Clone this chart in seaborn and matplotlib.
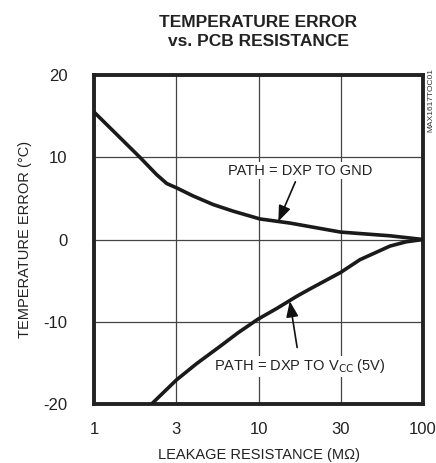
import numpy as np
import pandas as pd
import matplotlib
matplotlib.use("Agg")
import matplotlib.pyplot as plt
import seaborn as sns

# values (x on a 1..100 log axis, 3 and 30 sit at half decades)
gnd_r = [1.0, 1.9, 2.4, 2.77, 3.16, 4.0, 5.3, 7.0, 10.2, 15.5, 31.6, 63.0, 100.0]
gnd_err = [15.5, 10.0, 7.9, 6.8, 6.3, 5.3, 4.25, 3.45, 2.5, 2.0, 0.9, 0.45, 0.0]
vcc_r = [2.24, 3.16, 4.2, 5.83, 7.5, 9.9, 13.0, 17.1, 20.6, 31.6, 41.4, 63.0, 79.0, 100.0]
vcc_err = [-20.0, -17.1, -15.1, -13.0, -11.35, -9.7, -8.35, -6.9, -6.0, -4.0, -2.45, -0.8, -0.28, 0.0]

x_ticks = [1, 10 ** 0.5, 10, 10 ** 1.5, 100]
x_labels = ["1", "3", "10", "30", "100"]
y_ticks = [-20, -10, 0, 10, 20]

df = pd.concat([
    pd.DataFrame({"r": gnd_r, "err": gnd_err, "path": "gnd"}),
    pd.DataFrame({"r": vcc_r, "err": vcc_err, "path": "vcc"}),
])

sns.set_style("white")
plt.rcParams['font.family'] = ['Liberation Sans', 'DejaVu Sans']
plt.rcParams['axes.unicode_minus'] = False

fig = plt.figure(figsize=(4.36, 4.63), dpi=100)
ax = fig.add_axes([94 / 436, 1 - 404 / 463, 329 / 436, 329 / 463])

sns.lineplot(data=df, x="r", y="err", hue="path", palette=["#1a1a1a", "#1a1a1a"],
             linewidth=2.6, legend=False, ax=ax, zorder=3)

ax.set_xscale("log")
ax.set_xlim(1, 100)
ax.set_ylim(-20, 20)
ax.set_xticks(x_ticks)
ax.set_xticklabels(x_labels)
ax.minorticks_off()
ax.set_yticks(y_ticks)
ax.tick_params(axis="both", length=0, labelsize=12, colors="#222222")
ax.tick_params(axis="x", pad=13)
ax.tick_params(axis="y", pad=19)
ax.grid(True, color="#444444", linewidth=0.9)
for s in ax.spines.values():
    s.set_linewidth(2.8)
    s.set_color("#222222")

ax.set_xlabel("LEAKAGE RESISTANCE (M\u03a9)", fontsize=10.5, color="#222222", labelpad=8)
ax.set_ylabel("TEMPERATURE ERROR (\u00b0C)", fontsize=10.5, color="#222222", labelpad=8)

fig.text(0.593, 0.968, "TEMPERATURE ERROR\nvs. PCB RESISTANCE", ha="center", va="top",
         fontsize=12.5, fontweight="bold", color="#222222", linespacing=1.35)
fig.text(0.988, 0.853, "MAX1617TOC01", rotation=90, ha="center", va="top",
         fontsize=6, color="#333333")

# annotations
ax.annotate("PATH = DXP TO GND", xy=(13.2, 2.2), xytext=(17.9, 7.5),
            ha="center", va="bottom", fontsize=10.5, color="#222222",
            bbox=dict(boxstyle="square,pad=0.1", fc="white", ec="none"),
            arrowprops=dict(arrowstyle="-|>,head_length=0.9,head_width=0.35",
                            color="#111111", lw=1.2, shrinkA=2, shrinkB=0))
ax.annotate("PATH = DXP TO V$_{\\rm CC}$ (5V)", xy=(15.5, -7.5), xytext=(17.9, -15.4),
            ha="center", va="center", fontsize=10.5, color="#222222",
            bbox=dict(boxstyle="square,pad=0.1", fc="white", ec="none"),
            arrowprops=dict(arrowstyle="-|>,head_length=0.9,head_width=0.35",
                            color="#111111", lw=1.2, shrinkA=6, shrinkB=0))

fig.savefig("out.png", dpi=100)
